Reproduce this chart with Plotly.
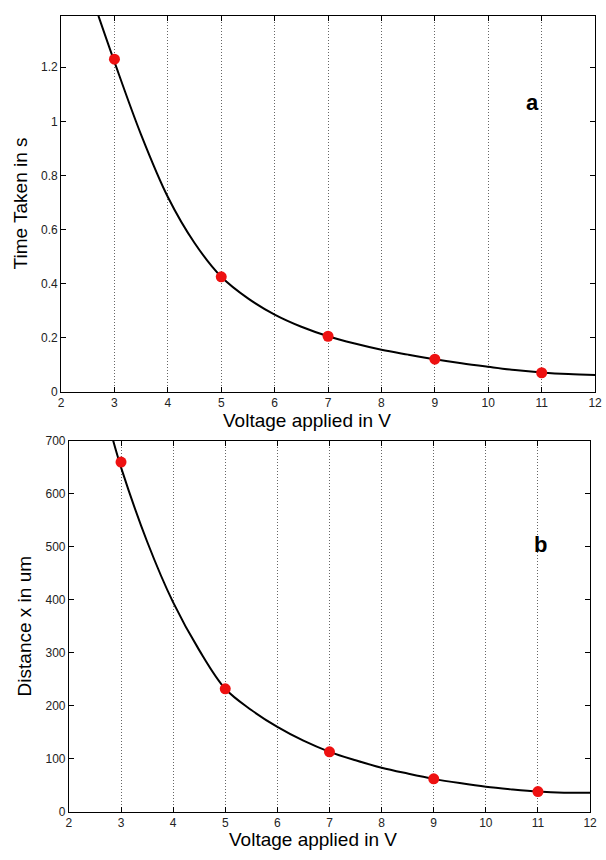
import plotly.graph_objects as go

# Data
volts = [3, 5, 7, 9, 11]
time_s = [1.23, 0.425, 0.205, 0.12, 0.07]
dist_um = [660, 232, 113, 62, 38]

# fitted curves
fit_a_x = [2.7, 3, 3.5, 4, 4.5, 5, 5.5, 6, 6.5, 7, 7.5, 8, 8.5, 9, 9.5, 10, 10.5, 11, 11.5, 12]
fit_a_y = [1.39, 1.22, 0.95, 0.72, 0.55, 0.425, 0.345, 0.285, 0.24, 0.205, 0.178, 0.155, 0.137, 0.12, 0.105, 0.092, 0.08, 0.071, 0.065, 0.062]
fit_b_x = [2.85, 3, 3.5, 4, 4.5, 5, 5.5, 6, 6.5, 7, 7.5, 8, 8.5, 9, 9.5, 10, 10.5, 11, 11.5, 12]
fit_b_y = [700, 650, 510, 395, 305, 232, 192, 160, 134, 113, 97, 83, 72, 62, 54, 47, 42, 38, 36, 36]

x_ticks = list(range(2, 13))
font = "Liberation Sans, Arial, sans-serif"

fig = go.Figure()
fig.add_trace(go.Scatter(x=fit_a_x, y=fit_a_y, mode="lines", line=dict(color="black", width=2, shape="spline"),
                         xaxis="x", yaxis="y", showlegend=False))
fig.add_trace(go.Scatter(x=volts, y=time_s, mode="markers", marker=dict(color="#ee1111", size=11),
                         xaxis="x", yaxis="y", showlegend=False))
fig.add_trace(go.Scatter(x=fit_b_x, y=fit_b_y, mode="lines", line=dict(color="black", width=2, shape="spline"),
                         xaxis="x2", yaxis="y2", showlegend=False))
fig.add_trace(go.Scatter(x=volts, y=dist_um, mode="markers", marker=dict(color="#ee1111", size=11),
                         xaxis="x2", yaxis="y2", showlegend=False))

common_x = dict(range=[2, 12], tickvals=x_ticks, ticks="inside", ticklen=5, tickcolor="black",
                showline=True, linecolor="black", linewidth=1, mirror="ticks",
                showgrid=True, gridcolor="#666666", griddash="1px,2px", gridwidth=1,
                zeroline=False, tickfont=dict(size=12, color="#222"))
common_y = dict(ticks="inside", ticklen=5, tickcolor="black", showline=True, linecolor="black",
                linewidth=1, mirror="ticks", showgrid=False, zeroline=False,
                tickfont=dict(size=12, color="#222"))

fig.update_layout(
    width=606, height=860,
    margin=dict(l=0, r=0, t=0, b=0),
    paper_bgcolor="white", plot_bgcolor="white",
    font=dict(family=font, color="black"),
    xaxis=dict(domain=[0.0974, 0.9934], anchor="y", **common_x),
    yaxis=dict(domain=[0.5453, 0.9895], anchor="x", range=[0, 1.39],
               tickvals=[0, 0.2, 0.4, 0.6, 0.8, 1, 1.2], **common_y),
    xaxis2=dict(domain=[0.1106, 0.985], anchor="y2", **common_x),
    yaxis2=dict(domain=[0.0488, 0.4872], anchor="x2", range=[0, 700],
                tickvals=[0, 100, 200, 300, 400, 500, 600, 700], **common_y),
    annotations=[
        dict(text="Voltage applied in V", x=0.51, y=1 - 420 / 860, xref="paper", yref="paper",
             showarrow=False, font=dict(size=19), xanchor="center", yanchor="middle"),
        dict(text="Voltage applied in V", x=0.52, y=1 - 846 / 860, xref="paper", yref="paper",
             showarrow=False, font=dict(size=19), xanchor="center", yanchor="middle"),
        dict(text="Time Taken in s", x=18 / 606, y=1 - 200 / 860, xref="paper", yref="paper",
             showarrow=False, font=dict(size=19), textangle=-90, xanchor="center", yanchor="middle"),
        dict(text="Distance x in um", x=22 / 606, y=1 - 630 / 860, xref="paper", yref="paper",
             showarrow=False, font=dict(size=19), textangle=-90, xanchor="center", yanchor="middle"),
        dict(text="<b>a</b>", x=10.82, y=1.07, xref="x", yref="y", showarrow=False,
             font=dict(size=22)),
        dict(text="<b>b</b>", x=11.05, y=505, xref="x2", yref="y2", showarrow=False,
             font=dict(size=22)),
    ],
)

fig.write_html("out.html")
